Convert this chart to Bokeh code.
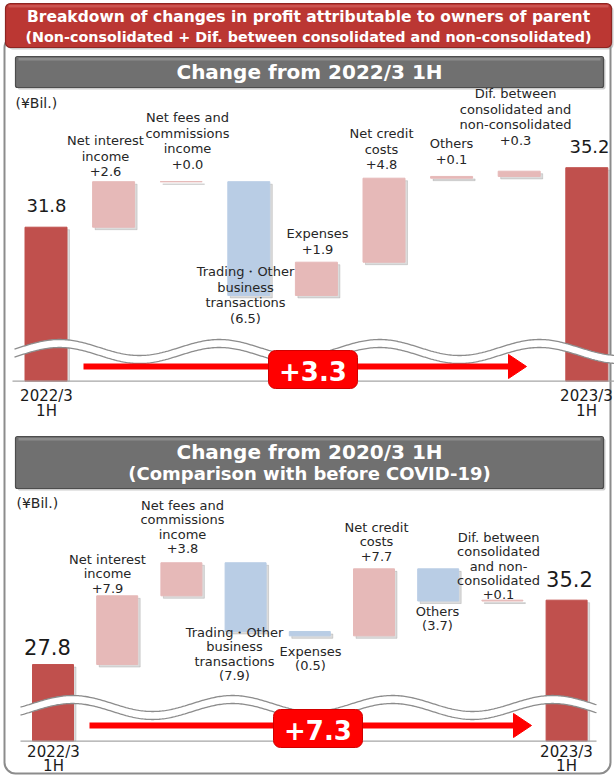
import numpy as np
from bokeh.plotting import figure
from bokeh.models import Range1d
from bokeh.core.properties import value
from bokeh.embed import file_html
from bokeh.resources import INLINE

# ---------------- data (¥ billions) ----------------
main_title = ["Breakdown of changes in profit attributable to owners of parent",
              "(Non-consolidated + Dif. between consolidated and non-consolidated)"]

top_title = ["Change from 2022/3 1H"]
top_items = ["Net interest\nincome", "Net fees and\ncommissions\nincome",
             "Trading・Other\nbusiness\ntransactions", "Expenses",
             "Net credit\ncosts", "Others",
             "Dif. between\nconsolidated and\nnon-consolidated"]
top_changes = [2.6, 0.0, -6.5, 1.9, 4.8, 0.1, 0.3]
top_start = 31.8
top_end = 35.2
top_periods = ["2022/3\n1H", "2023/3\n1H"]
top_total_change = "+3.3"

bottom_title = ["Change from 2020/3 1H", "(Comparison with before COVID-19)"]
bottom_items = ["Net interest\nincome", "Net fees and\ncommissions\nincome",
                "Trading・Other\nbusiness\ntransactions", "Expenses",
                "Net credit\ncosts", "Others",
                "Dif. between\nconsolidated\nand non-\nconsolidated"]
bottom_changes = [7.9, 3.8, -7.9, -0.5, 7.7, -3.7, 0.1]
bottom_start = 27.8
bottom_end = 35.2
bottom_periods = ["2022/3\n1H", "2023/3\n1H"]
bottom_total_change = "+7.3"

unit_label = "(¥Bil.)"

# ---------------- styling / layout ----------------
W, H = 614, 776
FONT = "DejaVu Sans"
TXT = "#262626"
C_TOTAL = "#c0504d"
C_UP = "#e6b9b8"
C_DOWN = "#b9cde5"
ARROW_RED = "#ff0000"

TOP_LAYOUT = dict(x0=45.5, dx=67.6, base_py=380.7, floor=23.0, ppu=17.5, barw=42,
                  label_pos=[(105, 140), (187, 117), (245, 271), (317, 233),
                             (381, 133), (451, 143), (515, 93)],
                  gap=15.5, label_size=13,
                  start_lbl=(46, 205), end_lbl=(589, 146), total_size=18,
                  period_pos=[(46, 395), (586, 395)], period_gap=15,
                  wave=dict(x1=14, x2=614, cy=351, amp=8, period=160, crest=59),
                  base_x=(12, 614),
                  arrow=dict(x1=83, x2=526, y=366),
                  box=(268, 357, 350, 388))

BOTTOM_LAYOUT = dict(x0=52.5, dx=64.2, base_py=740.6, floor=19.0, ppu=8.7, barw=41,
                     label_pos=[(107, 559), (182, 505), (234, 632), (310, 651),
                                (376, 527), (437, 611), (498, 537)],
                     gap=14.3, label_size=13,
                     start_lbl=(47, 646), end_lbl=(569, 578), total_size=21,
                     period_pos=[(53, 751), (566, 751)], period_gap=14,
                     wave=dict(x1=20, x2=596, cy=707, amp=8, period=160, crest=72),
                     base_x=(20, 596),
                     arrow=dict(x1=89, x2=531, y=725),
                     box=(273, 362, 709, 747))

p = figure(width=W, height=H, x_range=Range1d(0, W), y_range=Range1d(H, 0),
           output_backend="svg", toolbar_location=None,
           x_axis_type=None, y_axis_type=None, min_border=0,
           outline_line_color=None, background_fill_color="white",
           border_fill_color="white")
p.grid.visible = False


def fmt(v):
    return f"+{v:.1f}" if v >= 0 else f"({abs(v):.1f})"


def text_lines(lines, cx, y0, gap, size, color=TXT, bold=False, align="center"):
    ys = [y0 + k * gap for k in range(len(lines))]
    sizes = size if isinstance(size, list) else [size] * len(lines)
    p.text(x=[cx] * len(lines), y=ys, text=lines,
           text_font=value(FONT), text_font_size=[f"{s}px" for s in sizes],
           text_font_style="bold" if bold else "normal",
           text_align=align, text_baseline="middle", text_color=color)


def header(left, right, top, bottom, fill, edge, highlight, radius):
    p.quad(left=[left + 2], right=[right + 2], top=[top + 2], bottom=[bottom + 2],
           fill_color="#9a9a9a", fill_alpha=0.5, line_color=None, border_radius=radius)
    p.quad(left=[left], right=[right], top=[top], bottom=[bottom],
           fill_color=fill, line_color=edge, line_width=1.2, border_radius=radius)
    p.quad(left=[left + 3], right=[right - 3], top=[top + 1.5], bottom=[top + 4],
           fill_color=highlight, fill_alpha=0.45, line_color=None)


def panel(tag, start, changes, end, items, periods, total_change, L):
    x0, dx, ppu, floor = L["x0"], L["dx"], L["ppu"], L["floor"]
    y_lo = floor - (H - L["base_py"]) / ppu
    p.extra_x_ranges[tag + "_x"] = Range1d(-x0 / dx, (W - x0) / dx)
    p.extra_y_ranges[tag + "_y"] = Range1d(y_lo, y_lo + H / ppu)
    rng = dict(x_range_name=tag + "_x", y_range_name=tag + "_y")

    levels = np.concatenate([[start], start + np.cumsum(changes)])
    n = len(changes) + 2
    idx = np.arange(n, dtype=float)
    lo = np.array([floor] + list(np.minimum(levels[:-1], levels[1:])) + [floor])
    hi = np.array([start] + list(np.maximum(levels[:-1], levels[1:])) + [end])
    colors = [C_TOTAL] + [C_UP if c >= 0 else C_DOWN for c in changes] + [C_TOTAL]
    half = L["barw"] / 2 / dx

    # soft drop shadow, then the waterfall bars
    sx, sy = 2.5 / dx, 2.5 / ppu
    sh_lo = lo - sy
    sh_lo[0] = sh_lo[-1] = floor
    p.quad(left=idx - half + sx, right=idx + half + sx, top=hi - sy, bottom=sh_lo,
           fill_color="#8c8c8c", fill_alpha=0.3, line_color="#8c8c8c",
           line_alpha=0.3, line_width=1, **rng)
    p.quad(left=idx - half, right=idx + half, top=hi, bottom=lo,
           fill_color=colors, line_color=colors, line_width=1, **rng)

    # axis break
    wv = L["wave"]
    xs = np.linspace(wv["x1"], wv["x2"], 400)
    c = wv["cy"] - wv["amp"] * np.cos(2 * np.pi * (xs - wv["crest"]) / wv["period"])
    p.varea(x=xs, y1=c - 4, y2=c + 4, fill_color="white")
    p.line(xs, c - 4, line_color="#8c8c8c", line_width=1.3)
    p.line(xs, c + 4, line_color="#8c8c8c", line_width=1.3)

    # baseline
    bx1, bx2 = L["base_x"]
    p.segment(x0=[bx1], y0=[L["base_py"]], x1=[bx2], y1=[L["base_py"]],
              line_color="#a6a6a6", line_width=1.2)

    # overall change arrow
    a = L["arrow"]
    head = 18
    p.segment(x0=[a["x1"]], y0=[a["y"]], x1=[a["x2"] - head], y1=[a["y"]],
              line_color=ARROW_RED, line_width=6)
    p.patch(x=[a["x2"] - head, a["x2"], a["x2"] - head],
            y=[a["y"] - 12, a["y"], a["y"] + 12],
            fill_color=ARROW_RED, line_color=ARROW_RED)
    bl, br, bt, bb = L["box"]
    p.quad(left=[bl], right=[br], top=[bt], bottom=[bb], fill_color=ARROW_RED,
           line_color="#d00000", line_width=1, border_radius=7)
    text_lines([total_change], (bl + br) / 2, (bt + bb) / 2 + 1, 0, 26,
               color="white", bold=True)

    # item labels
    for name, ch, (cx, y0) in zip(items, changes, L["label_pos"]):
        text_lines(name.split("\n") + [fmt(ch)], cx, y0, L["gap"], L["label_size"])

    # totals and periods
    text_lines([f"{start:.1f}"], *L["start_lbl"], 0, L["total_size"], color="#1a1a1a")
    text_lines([f"{end:.1f}"], *L["end_lbl"], 0, L["total_size"], color="#1a1a1a")
    for lbl, (cx, y0) in zip(periods, L["period_pos"]):
        text_lines(lbl.split("\n"), cx, y0, L["period_gap"], 15, color="#1a1a1a")


# outer frame
p.quad(left=[4], right=[610], top=[36], bottom=[773], fill_color=None,
       line_color="#8c8c8c", line_width=2, border_radius=11)

# main title banner
header(5, 611, 3, 47, "#bb3733", "#8e2522", "#e07a76", 5)
text_lines(main_title, 308, 16.5, 19.5, [15.5, 14.3], color="white", bold=True)

# section banners
header(15, 603, 56, 87, "#707070", "#4d4d4d", "#b0b0b0", 2)
text_lines(top_title, 309, 71.5, 0, 20, color="white", bold=True)
header(15, 603, 436, 488, "#707070", "#4d4d4d", "#b0b0b0", 2)
text_lines(bottom_title, 309, 451, 21.5, [20, 18], color="white", bold=True)

text_lines([unit_label], 15, 102, 0, 14, align="left")
text_lines([unit_label], 16, 502, 0, 14, align="left")

panel("top", top_start, top_changes, top_end, top_items, top_periods,
      top_total_change, TOP_LAYOUT)
panel("bottom", bottom_start, bottom_changes, bottom_end, bottom_items,
      bottom_periods, bottom_total_change, BOTTOM_LAYOUT)

open("out.html", "w").write(file_html(p, INLINE))
